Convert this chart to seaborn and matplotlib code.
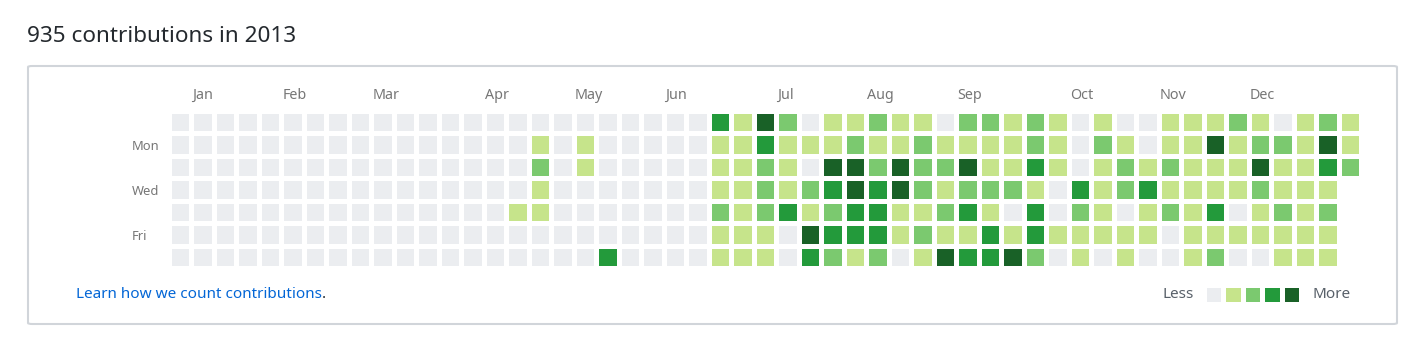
import numpy as np
import pandas as pd
import seaborn as sns
import matplotlib
matplotlib.use("Agg")
import matplotlib.pyplot as plt
from matplotlib.colors import ListedColormap
from matplotlib.patches import FancyBboxPatch

N = np.nan
# contribution level (0..4) per week column, one list per weekday row
sun = [0,0,0,0,0,0,0,0,0,0, 0,0,0,0,0,0,0,0,0,0, 0,0,0,0,3,1,4,2,0,1, 1,2,1,1,0,2,2,1,2,1, 0,1,0,0,1,1,1,2,1,0, 1,2,1]
mon = [0,0,0,0,0,0,0,0,0,0, 0,0,0,0,0,0,1,0,1,0, 0,0,0,0,1,1,3,1,1,1, 2,1,1,2,1,1,1,1,2,1, 0,2,1,0,1,1,4,1,2,2, 1,4,1]
tue = [0,0,0,0,0,0,0,0,0,0, 0,0,0,0,0,0,2,0,1,0, 0,0,0,0,1,1,2,1,0,4, 4,2,4,2,2,4,1,1,3,1, 0,1,2,1,2,1,1,1,4,1, 1,3,2]
wed = [0,0,0,0,0,0,0,0,0,0, 0,0,0,0,0,0,1,0,0,0, 0,0,0,0,1,1,2,1,2,3, 4,3,4,2,1,2,2,2,1,0, 3,1,2,3,1,1,1,1,2,1, 1,1,N]
thu = [0,0,0,0,0,0,0,0,0,0, 0,0,0,0,0,1,1,0,0,0, 0,0,0,0,2,1,2,3,1,2, 3,3,1,1,2,3,1,0,3,0, 2,1,0,1,2,1,3,0,1,2, 1,2,N]
fri = [0,0,0,0,0,0,0,0,0,0, 0,0,0,0,0,0,0,0,0,0, 0,0,0,0,1,1,1,0,4,3, 3,3,1,2,1,1,3,1,3,1, 1,1,1,1,0,1,1,1,1,1, 1,1,N]
sat = [0,0,0,0,0,0,0,0,0,0, 0,0,0,0,0,0,0,0,0,3, 0,0,0,0,1,1,1,0,3,2, 1,2,0,1,4,3,3,4,2,0, 1,0,1,0,0,1,2,0,0,1, 1,1,N]

weekdays = ["Sun", "Mon", "Tue", "Wed", "Thu", "Fri", "Sat"]
day_labels = {"Mon": 1, "Wed": 3, "Fri": 5}
month_names = ["Jan", "Feb", "Mar", "Apr", "May", "Jun", "Jul", "Aug", "Sep", "Oct", "Nov", "Dec"]
month_cols = [1, 5, 9, 14, 18, 22, 27, 31, 35, 40, 44, 48]
level_colors = ["#ebedf0", "#c6e48b", "#7bc96f", "#239a3b", "#196127"]
title_text = "935 contributions in 2013"

W, H = 1412, 359
fig = plt.figure(figsize=(W / 100, H / 100), dpi=100)
fig.patch.set_facecolor("white")
plt.rcParams["font.family"] = ["Noto Sans", "DejaVu Sans"]

def fx(px):
    return px / W

def fy(py):
    return 1 - py / H

# outer box
box = FancyBboxPatch((fx(28), fy(324)), fx(1397) - fx(28), fy(66) - fy(324),
                     boxstyle="round,pad=0,rounding_size=0.003",
                     transform=fig.transFigure, facecolor="none",
                     edgecolor="#d1d5da", linewidth=1.5, zorder=-1)
fig.patches.append(box)

df = pd.DataFrame([sun, mon, tue, wed, thu, fri, sat], index=weekdays)
cmap = ListedColormap(level_colors)

pitch = 22.5
left, top = 168.5, 110.5
ax = fig.add_axes([fx(left), fy(top + 7 * pitch), 53 * pitch / W, 7 * pitch / H])
sns.heatmap(df, ax=ax, cmap=cmap, vmin=-0.5, vmax=4.5, cbar=False,
            linewidths=3.3, linecolor="white", xticklabels=False,
            yticklabels=False, mask=df.isnull())
ax.patch.set_alpha(0)
ax.tick_params(length=0)
ax.set_xlabel("")
ax.set_ylabel("")

for name, c in zip(month_names, month_cols):
    ax.text(c + 0.06, -0.65, name, ha="left", va="center", fontsize=10.3,
            color="#767676", clip_on=False)
for name, r in day_labels.items():
    ax.text(-1.62, r + 0.6, name, ha="left", va="center", fontsize=9.3,
            color="#767676", clip_on=False)

# legend squares
lp = 19.5
lax = fig.add_axes([fx(1203.6), fy(284.6 + lp), 5 * lp / W, lp / H])
sns.heatmap(pd.DataFrame([list(range(5))]), ax=lax, cmap=cmap, vmin=-0.5, vmax=4.5,
            cbar=False, linewidths=3.4, linecolor="white",
            xticklabels=False, yticklabels=False)
lax.patch.set_alpha(0)
lax.tick_params(length=0)

fig.text(fx(1163), fy(295), "Less", ha="left", va="center", fontsize=11,
         color="#586069")
fig.text(fx(1312), fy(295), "More", ha="left", va="center", fontsize=11,
         color="#586069")

fig.text(fx(27), fy(36), title_text, ha="left", va="center", fontsize=16.2,
         color="#24292e")

t = fig.text(fx(76), fy(295), "Learn how we count contributions", ha="left",
             va="center", fontsize=11, color="#0366d6")
fig.canvas.draw()
bb = t.get_window_extent()
fig.text(bb.x1 / W, fy(295), ".", ha="left", va="center", fontsize=11,
         color="#24292e")

fig.savefig("out.png", dpi=100)
